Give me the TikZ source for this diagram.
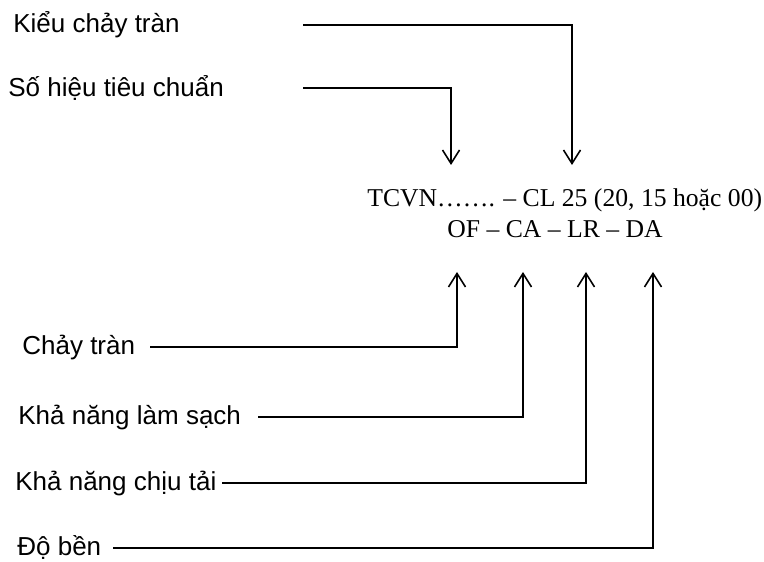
\documentclass[tikz,border=0pt]{standalone}
\usepackage{fontspec}
\setmainfont{Liberation Serif}
\setsansfont{Liberation Sans}
\usetikzlibrary{arrows.meta}

\tikzset{
    lbl/.style={anchor=base west,inner sep=0pt,font=\sffamily\fontsize{14.8}{17}\selectfont},
    code/.style={anchor=base west,inner sep=0pt,font=\rmfamily\fontsize{14.6}{17}\selectfont},
    conn/.style={line width=0.9pt,-{Straight Barb[length=2.7mm,width=3.4mm,line width=0.9pt]}}
}

\begin{document}
\begin{tikzpicture}
        \useasboundingbox (0,0) rectangle (15.28,11.24);
        % labels
        \node [lbl] (kieu) at (0.26,10.58) {Kiểu chảy tràn};
        \node [lbl] (sohieu) at (0.16,9.30) {Số hiệu tiêu chuẩn};
        \node [code] (tcvn) at (7.34,7.10) {TCVN……. – CL 25 (20, 15 hoặc 00)};
        \node [code] (ofca) at (8.94,6.48) {OF – CA – LR – DA};
        \node [lbl] (chay) at (0.44,4.14) {Chảy tràn};
        \node [lbl] (lamsach) at (0.36,2.74) {Khả năng làm sạch};
        \node [lbl] (chiutai) at (0.30,1.42) {Khả năng chịu tải};
        \node [lbl] (doben) at (0.34,0.12) {Độ bền};
        % connector ends
        \coordinate (kieu-a) at (6.06,10.74);
        \coordinate (kieu-b) at (11.44,7.94);
        \coordinate (sohieu-a) at (6.06,9.48);
        \coordinate (sohieu-b) at (9.02,7.94);
        \coordinate (chay-a) at (3.00,4.30);
        \coordinate (chay-b) at (9.14,5.80);
        \coordinate (lamsach-a) at (5.16,2.90);
        \coordinate (lamsach-b) at (10.46,5.80);
        \coordinate (chiutai-a) at (4.44,1.58);
        \coordinate (chiutai-b) at (11.72,5.80);
        \coordinate (doben-a) at (2.26,0.28);
        \coordinate (doben-b) at (13.06,5.80);
        \draw [conn] (kieu-a) -| (kieu-b);
        \draw [conn] (sohieu-a) -| (sohieu-b);
        \draw [conn] (chay-a) -| (chay-b);
        \draw [conn] (lamsach-a) -| (lamsach-b);
        \draw [conn] (chiutai-a) -| (chiutai-b);
        \draw [conn] (doben-a) -| (doben-b);
    \end{tikzpicture}
\end{document}
